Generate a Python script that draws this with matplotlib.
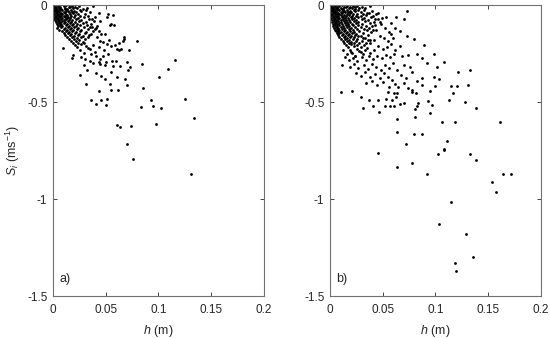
import numpy as np
import matplotlib.pyplot as plt

plt.rcParams['font.family'] = 'Liberation Sans'
plt.rcParams['mathtext.fontset'] = 'custom'
plt.rcParams['mathtext.rm'] = 'Liberation Sans'
plt.rcParams['mathtext.it'] = 'Liberation Sans:italic'

# panel a) : dense cluster near the origin
h_a_core = [0.001, 0.003, 0.005, 0.007, 0.010, 0.012, 0.015, 0.018, 0.021, 0.025,
            0.000, 0.002, 0.004, 0.006, 0.008, 0.011, 0.013, 0.016, 0.019, 0.023, 0.028,
            0.001, 0.003, 0.005, 0.007, 0.009, 0.011, 0.014, 0.017, 0.020, 0.026, 0.031,
            0.000, 0.002, 0.004, 0.006, 0.008, 0.010, 0.012, 0.015, 0.018, 0.022, 0.027, 0.035,
            0.001, 0.003, 0.005, 0.007, 0.009, 0.011, 0.013, 0.016, 0.019, 0.024, 0.030,
            0.002, 0.004, 0.006, 0.008, 0.010, 0.012, 0.014, 0.017, 0.021, 0.026, 0.033, 0.040,
            0.001, 0.003, 0.005, 0.007, 0.009, 0.011, 0.013, 0.016, 0.020, 0.024, 0.029, 0.037,
            0.002, 0.004, 0.006, 0.008, 0.010, 0.012, 0.015, 0.018, 0.022, 0.027, 0.034, 0.045,
            0.003, 0.005, 0.007, 0.009, 0.011, 0.014, 0.017, 0.021, 0.025, 0.031, 0.039,
            0.004, 0.006, 0.008, 0.010, 0.013, 0.016, 0.019, 0.023, 0.028, 0.036,
            0.005, 0.007, 0.009, 0.012, 0.015, 0.018, 0.022, 0.026, 0.032, 0.042,
            0.004, 0.008, 0.011, 0.014, 0.017, 0.020, 0.024, 0.029, 0.035,
            0.006, 0.010, 0.013, 0.016, 0.019, 0.023, 0.027, 0.033, 0.040,
            0.009, 0.012, 0.015, 0.018, 0.022, 0.026, 0.031, 0.038,
            0.010, 0.014, 0.017, 0.021, 0.025, 0.030, 0.036,
            0.011, 0.016, 0.020, 0.024, 0.028, 0.034,
            0.013, 0.018, 0.023, 0.027, 0.033,
            0.015, 0.020, 0.025, 0.030,
            0.017, 0.022, 0.028,
            0.019, 0.024, 0.029,
            0.021, 0.027, 0.023, 0.031, 0.026, 0.035, 0.029]
s_a_core = [-0.004, -0.008, -0.003, -0.010, -0.006, -0.002, -0.009, -0.005, -0.011, -0.007,
            -0.016, -0.013, -0.019, -0.014, -0.018, -0.015, -0.020, -0.012, -0.017, -0.014, -0.019,
            -0.026, -0.023, -0.028, -0.024, -0.027, -0.022, -0.029, -0.025, -0.030, -0.024, -0.027,
            -0.036, -0.033, -0.038, -0.034, -0.039, -0.035, -0.032, -0.037, -0.034, -0.038, -0.033, -0.036,
            -0.046, -0.043, -0.048, -0.044, -0.047, -0.042, -0.049, -0.045, -0.041, -0.047, -0.044,
            -0.056, -0.053, -0.058, -0.054, -0.057, -0.052, -0.059, -0.055, -0.051, -0.058, -0.054, -0.060,
            -0.066, -0.063, -0.068, -0.064, -0.067, -0.062, -0.069, -0.065, -0.061, -0.068, -0.064, -0.070,
            -0.076, -0.073, -0.078, -0.074, -0.077, -0.072, -0.079, -0.075, -0.071, -0.078, -0.074, -0.080,
            -0.086, -0.083, -0.088, -0.084, -0.087, -0.082, -0.089, -0.085, -0.081, -0.088, -0.084,
            -0.096, -0.093, -0.098, -0.094, -0.097, -0.092, -0.099, -0.095, -0.091, -0.098,
            -0.106, -0.103, -0.108, -0.104, -0.107, -0.102, -0.109, -0.105, -0.101, -0.108,
            -0.116, -0.113, -0.118, -0.114, -0.117, -0.112, -0.119, -0.115, -0.111,
            -0.126, -0.123, -0.128, -0.124, -0.127, -0.122, -0.129, -0.125, -0.121,
            -0.136, -0.133, -0.138, -0.134, -0.137, -0.132, -0.139, -0.135,
            -0.146, -0.143, -0.148, -0.144, -0.147, -0.142, -0.149,
            -0.156, -0.153, -0.158, -0.154, -0.157, -0.152,
            -0.166, -0.163, -0.168, -0.164, -0.167,
            -0.176, -0.173, -0.178, -0.174,
            -0.186, -0.183, -0.188,
            -0.196, -0.193, -0.198,
            -0.206, -0.203, -0.216, -0.213, -0.232, -0.228, -0.247]

# panel a) : scattered points
h_a_tail = [0.0797, 0.116, 0.1095, 0.101, 0.0848, 0.085, 0.1254, 0.1336, 0.093, 0.095,
            0.1025, 0.0835, 0.098, 0.061, 0.0638, 0.0737, 0.070, 0.0762, 0.1308,
            0.0359, 0.041, 0.046, 0.0502, 0.051, 0.0435, 0.0552, 0.0619, 0.0705, 0.054,
            0.0686, 0.061, 0.046, 0.0495, 0.0314, 0.026, 0.041, 0.055, 0.032, 0.071,
            0.073, 0.064, 0.0568, 0.0498, 0.0448, 0.0384, 0.0298, 0.0698, 0.060, 0.0263,
            0.0184, 0.0187, 0.0092, 0.0717, 0.0673, 0.0673, 0.066, 0.0629, 0.0641, 0.0625,
            0.0603, 0.059, 0.0552, 0.053, 0.0514, 0.047, 0.045, 0.0422, 0.0489, 0.0457,
            0.0432, 0.0406, 0.0371, 0.0543, 0.0578, 0.0552, 0.0524, 0.0565, 0.0517, 0.0441,
            0.0375, 0.0324, 0.0445, 0.0352, 0.0435, 0.0502, 0.0556,
            0.036, 0.040, 0.033, 0.038, 0.044, 0.048, 0.052, 0.041, 0.047, 0.030]
s_a_tail = [-0.184, -0.285, -0.328, -0.371, -0.306, -0.428, -0.483, -0.582, -0.490, -0.519,
            -0.529, -0.524, -0.612, -0.619, -0.629, -0.625, -0.715, -0.792, -0.873,
            -0.488, -0.512, -0.491, -0.517, -0.483, -0.443, -0.440, -0.440, -0.414, -0.407,
            -0.383, -0.369, -0.366, -0.380, -0.407, -0.363, -0.352, -0.345, -0.335, -0.335,
            -0.321, -0.316, -0.313, -0.307, -0.302, -0.301, -0.309, -0.294, -0.290, -0.270,
            -0.273, -0.259, -0.223, -0.232, -0.163, -0.177, -0.187, -0.198, -0.225, -0.232,
            -0.225, -0.208, -0.211, -0.180, -0.203, -0.192, -0.187, -0.163, -0.149, -0.148,
            -0.134, -0.120, -0.115, -0.105, -0.105, -0.096, -0.046, -0.053, -0.064, -0.041,
            -0.005, -0.015, -0.280, -0.289, -0.294, -0.296, -0.290,
            -0.250, -0.240, -0.220, -0.205, -0.215, -0.230, -0.250, -0.265, -0.260, -0.280]

# panel b) : dense cluster near the origin
h_b_core = [0.001, 0.003, 0.005, 0.007, 0.009, 0.011, 0.013, 0.016, 0.019, 0.022, 0.026, 0.030, 0.038,
            0.000, 0.002, 0.004, 0.006, 0.008, 0.010, 0.012, 0.015, 0.018, 0.021, 0.024, 0.028, 0.033,
            0.001, 0.003, 0.005, 0.007, 0.009, 0.011, 0.013, 0.016, 0.019, 0.023, 0.027, 0.032, 0.040,
            0.000, 0.002, 0.004, 0.006, 0.008, 0.010, 0.012, 0.014, 0.017, 0.020, 0.024, 0.029, 0.035,
            0.001, 0.003, 0.005, 0.007, 0.009, 0.011, 0.013, 0.016, 0.019, 0.022, 0.026, 0.031, 0.037, 0.044,
            0.000, 0.002, 0.004, 0.006, 0.008, 0.010, 0.012, 0.015, 0.018, 0.021, 0.025, 0.029, 0.034, 0.041,
            0.001, 0.003, 0.005, 0.007, 0.009, 0.011, 0.014, 0.017, 0.020, 0.023, 0.027, 0.032, 0.039,
            0.002, 0.004, 0.006, 0.008, 0.010, 0.012, 0.015, 0.018, 0.021, 0.025, 0.030, 0.036, 0.046,
            0.002, 0.004, 0.006, 0.008, 0.010, 0.013, 0.016, 0.019, 0.023, 0.027, 0.033, 0.042,
            0.003, 0.005, 0.007, 0.009, 0.011, 0.014, 0.017, 0.021, 0.025, 0.030, 0.038,
            0.003, 0.005, 0.007, 0.009, 0.012, 0.015, 0.018, 0.022, 0.027, 0.034, 0.043,
            0.004, 0.006, 0.008, 0.010, 0.013, 0.016, 0.020, 0.024, 0.029, 0.037,
            0.005, 0.007, 0.009, 0.011, 0.014, 0.018, 0.022, 0.026, 0.032, 0.041,
            0.006, 0.008, 0.010, 0.013, 0.016, 0.019, 0.023, 0.028, 0.035,
            0.007, 0.009, 0.012, 0.015, 0.018, 0.021, 0.025, 0.031, 0.039,
            0.008, 0.011, 0.014, 0.017, 0.020, 0.024, 0.029, 0.036,
            0.009, 0.013, 0.016, 0.019, 0.023, 0.027, 0.033,
            0.010, 0.014, 0.018, 0.022, 0.026, 0.031, 0.038,
            0.012, 0.016, 0.020, 0.025, 0.030, 0.036,
            0.013, 0.018, 0.023, 0.028, 0.034,
            0.015, 0.020, 0.026, 0.032,
            0.017, 0.023, 0.029,
            0.019, 0.026, 0.033,
            0.021, 0.029, 0.024]
s_b_core = [-0.004, -0.008, -0.003, -0.010, -0.006, -0.002, -0.009, -0.005, -0.011, -0.007, -0.003, -0.008, -0.006,
            -0.016, -0.013, -0.019, -0.014, -0.018, -0.015, -0.020, -0.012, -0.017, -0.014, -0.019, -0.016, -0.013,
            -0.026, -0.023, -0.028, -0.024, -0.027, -0.022, -0.029, -0.025, -0.030, -0.024, -0.027, -0.023, -0.028,
            -0.036, -0.033, -0.038, -0.034, -0.039, -0.035, -0.032, -0.037, -0.034, -0.038, -0.033, -0.036, -0.039,
            -0.046, -0.043, -0.048, -0.044, -0.047, -0.042, -0.049, -0.045, -0.041, -0.047, -0.044, -0.048, -0.043, -0.046,
            -0.056, -0.053, -0.058, -0.054, -0.057, -0.052, -0.059, -0.055, -0.051, -0.058, -0.054, -0.057, -0.053, -0.056,
            -0.066, -0.063, -0.068, -0.064, -0.067, -0.062, -0.069, -0.065, -0.061, -0.068, -0.064, -0.067, -0.063,
            -0.076, -0.073, -0.078, -0.074, -0.077, -0.072, -0.079, -0.075, -0.071, -0.078, -0.074, -0.077, -0.073,
            -0.086, -0.083, -0.088, -0.084, -0.087, -0.082, -0.089, -0.085, -0.081, -0.088, -0.084, -0.087,
            -0.096, -0.093, -0.098, -0.094, -0.097, -0.092, -0.099, -0.095, -0.091, -0.098, -0.094,
            -0.106, -0.103, -0.108, -0.104, -0.107, -0.102, -0.109, -0.105, -0.101, -0.108, -0.104,
            -0.116, -0.113, -0.118, -0.114, -0.117, -0.112, -0.119, -0.115, -0.111, -0.118,
            -0.126, -0.123, -0.128, -0.124, -0.127, -0.122, -0.129, -0.125, -0.121, -0.128,
            -0.136, -0.133, -0.138, -0.134, -0.137, -0.132, -0.139, -0.135, -0.131,
            -0.146, -0.143, -0.148, -0.144, -0.147, -0.142, -0.149, -0.145, -0.141,
            -0.156, -0.153, -0.158, -0.154, -0.157, -0.152, -0.159, -0.155,
            -0.166, -0.163, -0.168, -0.164, -0.167, -0.162, -0.169,
            -0.176, -0.173, -0.178, -0.174, -0.177, -0.172, -0.179,
            -0.186, -0.183, -0.188, -0.184, -0.187, -0.182,
            -0.196, -0.193, -0.198, -0.194, -0.197,
            -0.206, -0.203, -0.208, -0.204,
            -0.216, -0.213, -0.218,
            -0.232, -0.228, -0.234,
            -0.247, -0.243, -0.262]

# panel b) : scattered points
h_b_tail = [0.0459, 0.064, 0.0782, 0.0925, 0.103, 0.1087, 0.1333, 0.139, 0.1536, 0.1577,
            0.1647, 0.1723, 0.115, 0.1033, 0.1295, 0.1355, 0.1185, 0.120,
            0.161, 0.139, 0.1285, 0.1327, 0.1214, 0.1307, 0.1204, 0.1147, 0.117, 0.1134,
            0.119, 0.1064, 0.1115, 0.1083, 0.0874, 0.0801, 0.0725, 0.064, 0.0634, 0.0805,
            0.095, 0.0468, 0.031, 0.0292, 0.0206, 0.0108, 0.037, 0.0409, 0.0459, 0.0523,
            0.057, 0.0611, 0.0662, 0.0706, 0.081, 0.0824, 0.084, 0.0934, 0.0972, 0.0586,
            0.0532, 0.0627, 0.0634, 0.0605, 0.0644, 0.0618, 0.0554, 0.0776, 0.0782, 0.0814,
            0.0871, 0.095, 0.0998, 0.0988, 0.1033, 0.1013, 0.1086, 0.0985, 0.0893, 0.0795,
            0.083, 0.0871, 0.0922, 0.0871, 0.0732, 0.0706, 0.063, 0.0668, 0.0729, 0.0583,
            0.0456, 0.0491, 0.0238,
            0.012, 0.016, 0.020, 0.024, 0.028, 0.031, 0.035, 0.038, 0.042, 0.046, 0.050, 0.054, 0.058, 0.062, 0.066,
            0.014, 0.018, 0.022, 0.026, 0.030, 0.034, 0.037, 0.041, 0.045, 0.049, 0.053, 0.057, 0.061, 0.068, 0.074,
            0.011, 0.019, 0.023, 0.027, 0.032, 0.036, 0.040, 0.044, 0.048, 0.052, 0.056, 0.060, 0.064, 0.070, 0.076,
            0.025, 0.029, 0.033, 0.038, 0.043, 0.047, 0.051, 0.055, 0.059, 0.067, 0.072, 0.078,
            0.034, 0.040, 0.045, 0.050, 0.056, 0.070, 0.074, 0.083,
            0.040, 0.044, 0.048, 0.052, 0.056, 0.047, 0.051, 0.055, 0.060, 0.042, 0.038, 0.062,
            0.058, 0.053, 0.047, 0.043]
s_b_tail = [-0.765, -0.837, -0.813, -0.871, -0.770, -0.747, -0.766, -0.799, -0.914, -0.966,
            -0.871, -0.871, -1.017, -1.131, -1.182, -1.297, -1.332, -1.373,
            -0.605, -0.533, -0.502, -0.333, -0.345, -0.412, -0.418, -0.416, -0.455, -0.490,
            -0.605, -0.603, -0.703, -0.742, -0.665, -0.665, -0.716, -0.656, -0.589, -0.579,
            -0.558, -0.553, -0.529, -0.476, -0.442, -0.450, -0.490, -0.521, -0.490, -0.521,
            -0.521, -0.521, -0.512, -0.507, -0.534, -0.521, -0.507, -0.493, -0.517, -0.490,
            -0.483, -0.473, -0.455, -0.452, -0.424, -0.407, -0.447, -0.438, -0.450, -0.452,
            -0.414, -0.442, -0.418, -0.369, -0.380, -0.321, -0.294, -0.251, -0.206, -0.175,
            -0.253, -0.275, -0.301, -0.375, -0.031, -0.072, -0.064, -0.136, -0.162, -0.151,
            -0.040, -0.069, -0.009,
            -0.23, -0.25, -0.24, -0.26, -0.235, -0.25, -0.22, -0.245, -0.23, -0.21, -0.225, -0.215, -0.20, -0.23, -0.21,
            -0.27, -0.285, -0.275, -0.29, -0.27, -0.285, -0.265, -0.28, -0.26, -0.275, -0.255, -0.27, -0.25, -0.265, -0.255,
            -0.31, -0.32, -0.305, -0.325, -0.31, -0.33, -0.305, -0.32, -0.335, -0.31, -0.325, -0.30, -0.335, -0.31, -0.32,
            -0.35, -0.365, -0.345, -0.37, -0.355, -0.375, -0.35, -0.37, -0.385, -0.36, -0.375, -0.345,
            -0.40, -0.39, -0.41, -0.395, -0.42, -0.40, -0.43, -0.39,
            -0.11, -0.13, -0.10, -0.12, -0.14, -0.16, -0.17, -0.185, -0.17, -0.18, -0.195, -0.12,
            -0.09, -0.06, -0.085, -0.07]

panels = [('a)', h_a_core + h_a_tail, s_a_core + s_a_tail),
          ('b)', h_b_core + h_b_tail, s_b_core + s_b_tail)]

xticks = [0, 0.05, 0.1, 0.15, 0.2]
xticklabels = ['0', '0.05', '0.1', '0.15', '0.2']
yticks = [-1.5, -1, -0.5, 0]
yticklabels = ['-1.5', '-1', '-0.5', '0']

fig = plt.figure(figsize=(5.5, 3.38), dpi=100)
lefts = [0.0964, 0.600]
txt_col = '#262626'
for (lab, h, s), left in zip(panels, lefts):
    ax = fig.add_axes([left, 0.124, 0.383, 0.861])
    ax.plot(h, s, 'o', ms=2.0, mew=0, color='k')
    ax.set_xlim(0, 0.2)
    ax.set_ylim(-1.5, 0)
    ax.set_xticks(xticks)
    ax.set_xticklabels(xticklabels)
    ax.set_yticks(yticks)
    ax.set_yticklabels(yticklabels)
    ax.tick_params(direction='in', top=True, right=True, length=3, width=0.6,
                   labelsize=8.5, colors=txt_col)
    ax.tick_params(axis='x', pad=6)
    ax.tick_params(axis='y', pad=4)
    for sp in ax.spines.values():
        sp.set_color('#707070')
        sp.set_linewidth(0.8)
    ax.set_xlabel(r'$h$ (m)', fontsize=9, color=txt_col, labelpad=5)
    ax.text(0.03, 0.05, lab, transform=ax.transAxes, fontsize=9, color=txt_col)

fig.axes[0].set_ylabel(r'$S_i$ (ms$^{-1}$)', fontsize=9, color=txt_col, labelpad=4)

fig.savefig('out.png', dpi=100)
